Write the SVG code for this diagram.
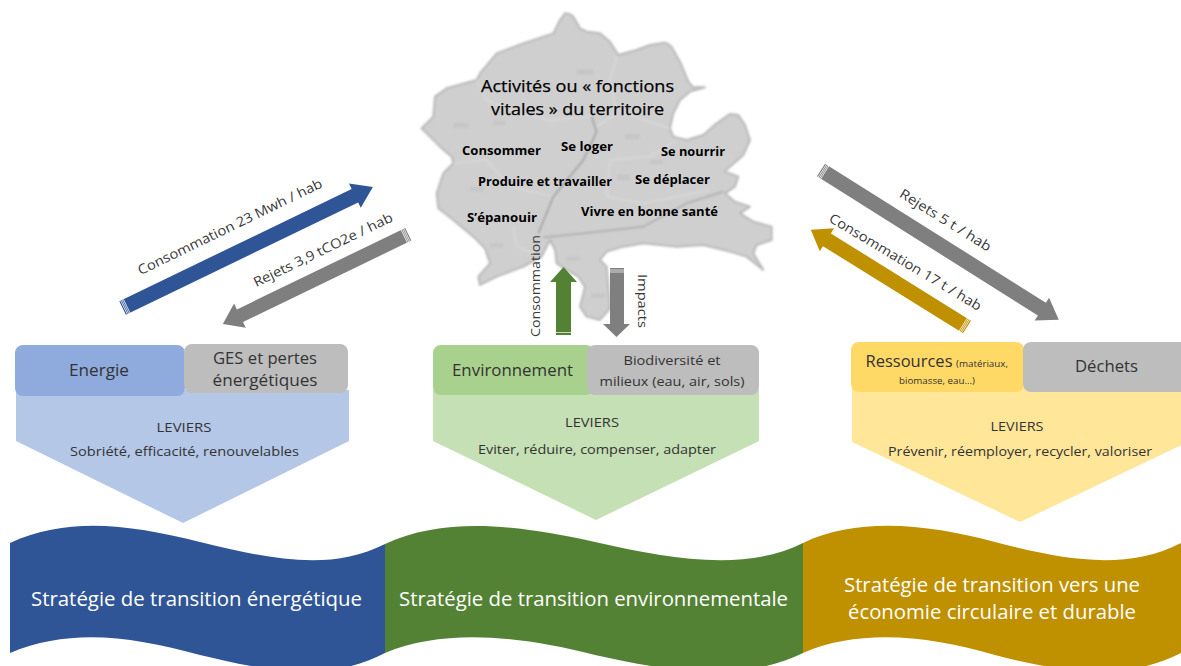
<svg xmlns="http://www.w3.org/2000/svg" width="1181" height="666" viewBox="0 0 1181 666">
<style>
text{font-family:"Open Sans","Noto Sans","Liberation Sans",sans-serif;fill:#333;text-anchor:middle}
.title{font-size:16.500px;fill:#000;stroke:#000;stroke-width:.25}
.act{font-size:12.500px;font-weight:700;fill:#000}
.lab{font-size:13.500px;fill:#3a3a3a}
.box{font-size:15.500px}
.sm{font-size:12.500px}
.lev{font-size:13px}
.ban{font-size:19.500px;fill:#fff}
.hatch{stroke:#fff;stroke-width:.7;fill:none}
</style>
<defs>
<filter id="soft" x="-5%" y="-5%" width="110%" height="110%"><feGaussianBlur stdDeviation="3"/></filter>
</defs>
<rect width="1181" height="666" fill="#fff"/>
<g id="territoire">
<g transform="translate(410 0) scale(.3333)" filter="url(#soft)">
<path fill="#cfcfcf" stroke="#b8b8b8" stroke-width="6" stroke-linejoin="round" d="M465,40 Q482,42 490,50 L510,85 L530,95 L570,100 L600,125 L625,165 L680,150 L720,135 L765,128 Q785,135 790,150 L810,185 L835,245 L850,262 L885,262 L840,275 L810,300 L790,340 L780,385 L790,410 L830,420 L880,405 L920,370 L960,342 L985,345 L1005,375 L1020,420 L1000,465 L960,500 L945,515 L985,530 L975,560 L945,580 L975,605 L1020,620 L990,640 L1030,665 L1085,680 L1085,720 L1040,735 L1030,760 L1060,810 L1010,770 L960,755 L880,735 L800,740 L700,730 L640,740 L590,755 L570,780 L590,800 L600,925 L570,960 L530,950 L510,920 L525,860 L505,830 L470,810 L440,790 L435,750 L420,720 L395,770 L340,800 L260,830 L210,855 L205,830 L240,790 L225,745 L190,710 L130,660 L85,625 L80,580 L100,520 L130,490 L125,470 L90,440 L35,385 L70,350 L75,290 L110,265 L200,240 L210,220 L260,160 L340,130 L400,110 L430,100 L450,60 Z"/>
<g fill="#c6c6c6">
<rect x="500" y="208" width="50" height="16"/><rect x="130" y="368" width="45" height="16"/><rect x="645" y="402" width="45" height="16"/><rect x="250" y="362" width="35" height="14"/><rect x="470" y="770" width="40" height="12"/><rect x="545" y="880" width="40" height="14"/><rect x="240" y="730" width="40" height="12"/><rect x="720" y="480" width="40" height="12"/><rect x="620" y="525" width="40" height="16"/><rect x="180" y="560" width="40" height="14"/>
</g>
<path fill="none" stroke="#dadada" stroke-width="4" d="M200,240 L230,300 L330,340 L420,360 L540,350 M130,490 L230,480 L300,560 L430,590 M600,480 L720,470 L800,420 M620,170 L600,240 L620,340 L560,380 M600,480 L590,590 L700,610 L900,570 M310,680 L320,740 L390,770 M640,340 L780,385"/>
<path fill="none" stroke="#a0a0a0" stroke-width="5" d="M545,350 L560,395 L520,480 L430,590 L385,700"/>
<path fill="none" stroke="#adadad" stroke-width="5" d="M400,712 L520,700 L700,680 L830,610 L940,575"/>
</g>
<text class="title" x="577.500" y="92" textLength="193" lengthAdjust="spacingAndGlyphs">Activités ou « fonctions</text>
<text class="title" x="577.500" y="115" textLength="173" lengthAdjust="spacingAndGlyphs">vitales » du territoire</text>
<text class="act" x="501.500" y="155" textLength="79" lengthAdjust="spacingAndGlyphs">Consommer</text>
<text class="act" x="587" y="151" textLength="52" lengthAdjust="spacingAndGlyphs">Se loger</text>
<text class="act" x="693" y="156" textLength="64" lengthAdjust="spacingAndGlyphs">Se nourrir</text>
<text class="act" x="545" y="186" textLength="134" lengthAdjust="spacingAndGlyphs">Produire et travailler</text>
<text class="act" x="672.500" y="184" textLength="75" lengthAdjust="spacingAndGlyphs">Se déplacer</text>
<text class="act" x="502" y="222" textLength="70" lengthAdjust="spacingAndGlyphs">S’épanouir</text>
<text class="act" x="649.500" y="216" textLength="137" lengthAdjust="spacingAndGlyphs">Vivre en bonne santé</text>
</g>
<g id="connectors">
<g id="arrow-conso-energie" transform="translate(122.600 308) rotate(-25.800)">
<path fill="#2f5597" d="M0,-7.500 H258 V-13.500 L278,0 L258,13.500 V7.500 H0 Z"/>
<path class="hatch" d="M1.500,-7.500 V7.500 M3,-7.500 V7.500 M4.500,-7.500 V7.500"/>
</g>
<g id="arrow-rejets-ges" transform="translate(408.300 234.300) rotate(154.200)">
<path fill="#7f7f7f" d="M0,-7 H187 V-13.500 L206,0 L187,13.500 V7 H0 Z"/>
<path class="hatch" d="M1.500,-7 V7 M3,-7 V7 M4.500,-7 V7"/>
</g>
<g id="arrow-rejets-dechets" transform="translate(821 170) rotate(32.200)">
<path fill="#7f7f7f" d="M0,-7.500 H261 V-13.500 L281,0 L261,13.500 V7.500 H0 Z"/>
<path class="hatch" d="M1.500,-7.500 V7.500 M3,-7.500 V7.500 M4.500,-7.500 V7.500"/>
</g>
<g id="arrow-conso-ressources" transform="translate(967 327) rotate(211.900)">
<path fill="#bf9000" d="M0,-7.500 H165 V-13.500 L184,0 L165,13.500 V7.500 H0 Z"/>
<path class="hatch" d="M1.500,-7.500 V7.500 M3,-7.500 V7.500 M4.500,-7.500 V7.500"/>
</g>
<g id="arrow-conso-env">
<path fill="#548235" d="M556,335 V282 H550 L563.500,267 L577,282 H571 V335 Z"/>
<path class="hatch" d="M556,332.500 H571"/>
</g>
<g id="arrow-impacts">
<path fill="#7f7f7f" d="M610,268 V324 H603 L616.500,337 L630,324 H624 V268 Z"/>
<path class="hatch" d="M610,270 H624 M610,272 H624"/>
</g>
<text class="lab" transform="translate(232 231) rotate(-25.800)" textLength="203" lengthAdjust="spacingAndGlyphs">Consommation 23 Mwh / hab</text>
<text class="lab" transform="translate(325 254) rotate(-25.800)" textLength="153" lengthAdjust="spacingAndGlyphs">Rejets 3,9 tCO2e / hab</text>
<text class="lab" transform="translate(943 224) rotate(32)" textLength="105" lengthAdjust="spacingAndGlyphs">Rejets 5 t / hab</text>
<text class="lab" transform="translate(903 266) rotate(31)" textLength="175" lengthAdjust="spacingAndGlyphs">Consommation 17 t / hab</text>
<text class="lab" transform="translate(540 286) rotate(-90)" textLength="102" lengthAdjust="spacingAndGlyphs">Consommation</text>
<text class="lab" transform="translate(638 301) rotate(90)" textLength="54" lengthAdjust="spacingAndGlyphs">Impacts</text>
</g>
<g id="energie">
<path fill="#b4c7e7" d="M16,390 H349 V441 L183,523 L16,441 Z"/>
<rect x="15" y="345" width="170" height="51" rx="8" fill="#8faadc"/>
<rect x="184" y="344" width="164" height="49" rx="8" fill="#bdbdbd"/>
<text class="box" x="99" y="376" textLength="60" lengthAdjust="spacingAndGlyphs">Energie</text>
<text class="box" x="265" y="364" textLength="104" lengthAdjust="spacingAndGlyphs">GES et pertes</text>
<text class="box" x="265" y="386" textLength="105" lengthAdjust="spacingAndGlyphs">énergétiques</text>
<text class="lev" x="184" y="432" textLength="55" lengthAdjust="spacingAndGlyphs">LEVIERS</text>
<text class="lev" x="184.500" y="456" textLength="229" lengthAdjust="spacingAndGlyphs">Sobriété, efficacité, renouvelables</text>
</g>
<g id="environnement">
<path fill="#c5e0b4" d="M433,390 H759 V441 L596,520 L433,441 Z"/>
<rect x="433" y="345" width="161" height="50" rx="8" fill="#a9d18e"/>
<rect x="587" y="345" width="172" height="50" rx="8" fill="#bdbdbd"/>
<text class="box" x="512.500" y="376" textLength="121" lengthAdjust="spacingAndGlyphs">Environnement</text>
<text class="sm" x="672" y="365" textLength="97" lengthAdjust="spacingAndGlyphs">Biodiversité et</text>
<text class="sm" x="672" y="386" textLength="145" lengthAdjust="spacingAndGlyphs">milieux (eau, air, sols)</text>
<text class="lev" x="592" y="427" textLength="54" lengthAdjust="spacingAndGlyphs">LEVIERS</text>
<text class="lev" x="597" y="454" textLength="238" lengthAdjust="spacingAndGlyphs">Eviter, réduire, compenser, adapter</text>
</g>
<g id="ressources">
<path fill="#ffe699" d="M852,387 H1188 V442 L1020,522 L852,442 Z"/>
<rect x="851" y="342" width="173" height="50" rx="8" fill="#ffd966"/>
<rect x="1023" y="342" width="170" height="50" rx="8" fill="#bdbdbd"/>
<text class="box" x="909" y="367" textLength="87" lengthAdjust="spacingAndGlyphs">Ressources</text>
<text x="982" y="367" font-size="9.500" textLength="52" lengthAdjust="spacingAndGlyphs">(matériaux,</text>
<text x="937" y="384" font-size="9.500" textLength="76" lengthAdjust="spacingAndGlyphs">biomasse, eau…)</text>
<text class="box" x="1106.500" y="372" textLength="63" lengthAdjust="spacingAndGlyphs">Déchets</text>
<text class="lev" x="1017" y="431" textLength="53" lengthAdjust="spacingAndGlyphs">LEVIERS</text>
<text class="lev" x="1020" y="456" textLength="264" lengthAdjust="spacingAndGlyphs">Prévenir, réemployer, recycler, valoriser</text>
</g>
<g id="strategie-energetique">
<path fill="#2f5597" d="M10,543 C70,516 130,525 200,542 C270,559 330,572 385,544 V653 C330,682 270,672 200,655 C130,636 70,628 10,653 Z"/>
<text class="ban" x="196.500" y="606" textLength="331" lengthAdjust="spacingAndGlyphs">Stratégie de transition énergétique</text>
</g>
<g id="strategie-environnementale">
<path fill="#548235" d="M385,544 C445,516 520,525 595,542 C670,559 745,572 803,543 V653 C745,682 670,672 595,655 C520,636 445,628 385,653 Z"/>
<text class="ban" x="593.500" y="606" textLength="389" lengthAdjust="spacingAndGlyphs">Stratégie de transition environnementale</text>
</g>
<g id="strategie-circulaire">
<path fill="#bf9000" d="M803,543 C860,516 930,525 995,542 C1060,559 1125,572 1181,543 V653 C1125,682 1060,672 995,655 C930,636 860,628 803,653 Z"/>
<text class="ban" x="992" y="592" textLength="296" lengthAdjust="spacingAndGlyphs">Stratégie de transition vers une</text>
<text class="ban" x="992" y="619" textLength="288" lengthAdjust="spacingAndGlyphs">économie circulaire et durable</text>
</g>
</svg>
